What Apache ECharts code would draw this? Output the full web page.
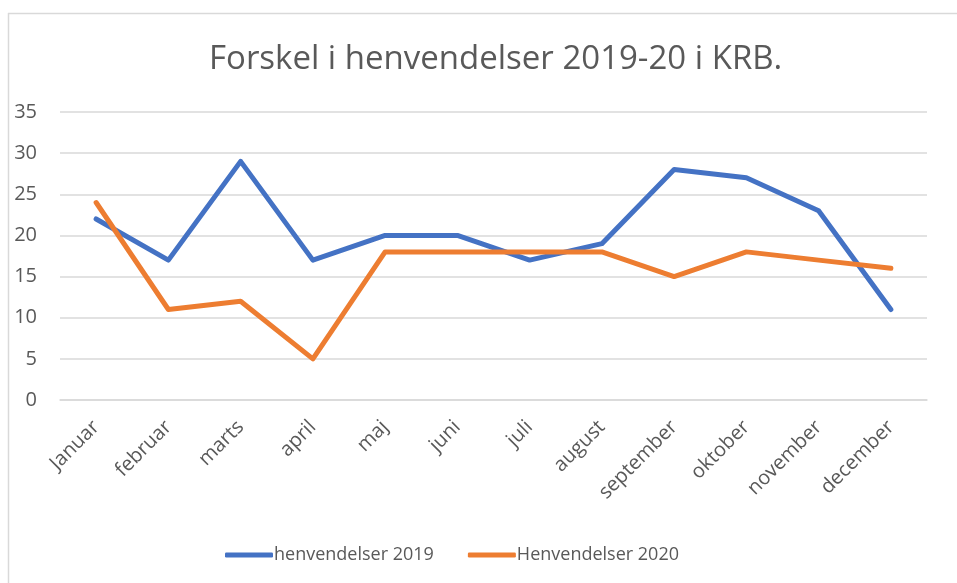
<!DOCTYPE html>
<html>
<head>
<meta charset="utf-8">
<script src="https://cdn.jsdelivr.net/npm/echarts@6/dist/echarts.min.js"></script>
<style>html,body{margin:0;padding:0;background:#fff}#c{width:957px;height:583px}</style>
</head>
<body>
<div id="c"></div>
<script>
const categories = ['Januar','februar','marts','april','maj','juni','juli','august','september','oktober','november','december'];
const values2019 = [22,17,29,17,20,20,17,19,28,27,23,11];
const values2020 = [24,11,12,5,18,18,18,18,15,18,17,16];
const seriesNames = ['henvendelser 2019','Henvendelser 2020'];
const yTicks = {min:0,max:35,interval:5};

const chart = echarts.init(document.getElementById('c'));
const font = '"Open Sans", sans-serif';
chart.setOption({
  animation:false,
  backgroundColor:'#fff',
  title:{text:'Forskel i henvendelser 2019-20 i KRB.',left:204,top:38,
    textStyle:{fontFamily:font,fontSize:33,fontWeight:'normal',color:'#595959'}},
  graphic:[
    {type:'line',shape:{x1:8,y1:13.5,x2:957,y2:13.5},style:{stroke:'#d9d9d9',lineWidth:1.5}},
    {type:'line',shape:{x1:8.5,y1:13,x2:8.5,y2:583},style:{stroke:'#d9d9d9',lineWidth:1.5}}
  ],
  grid:{left:60,right:30,top:112,bottom:183,containLabel:false},
  legend:{top:541,left:220,itemWidth:48,itemHeight:5,itemGap:34,
    icon:'roundRect',
    textStyle:{fontFamily:font,fontSize:18,color:'#595959',padding:[0,0,0,-4]},
    data:seriesNames},
  xAxis:{type:'category',data:categories,boundaryGap:true,
    axisLine:{lineStyle:{color:'#d9d9d9',width:1.5}},axisTick:{show:false},
    axisLabel:{rotate:45,fontFamily:font,fontSize:20,color:'#595959',margin:24,interval:0}},
  yAxis:{type:'value',min:yTicks.min,max:yTicks.max,interval:yTicks.interval,
    axisLine:{show:false},axisTick:{show:false},
    splitLine:{lineStyle:{color:'#d9d9d9',width:1.5}},
    axisLabel:{fontFamily:font,fontSize:20,color:'#595959',margin:23}},
  series:[
    {name:seriesNames[0],type:'line',data:values2019,symbol:'none',
      lineStyle:{color:'#4472C4',width:5,cap:'round',join:'round'},itemStyle:{color:'#4472C4'}},
    {name:seriesNames[1],type:'line',data:values2020,symbol:'none',
      lineStyle:{color:'#ED7D31',width:5,cap:'round',join:'round'},itemStyle:{color:'#ED7D31'}}
  ]
});
</script>
</body>
</html>
